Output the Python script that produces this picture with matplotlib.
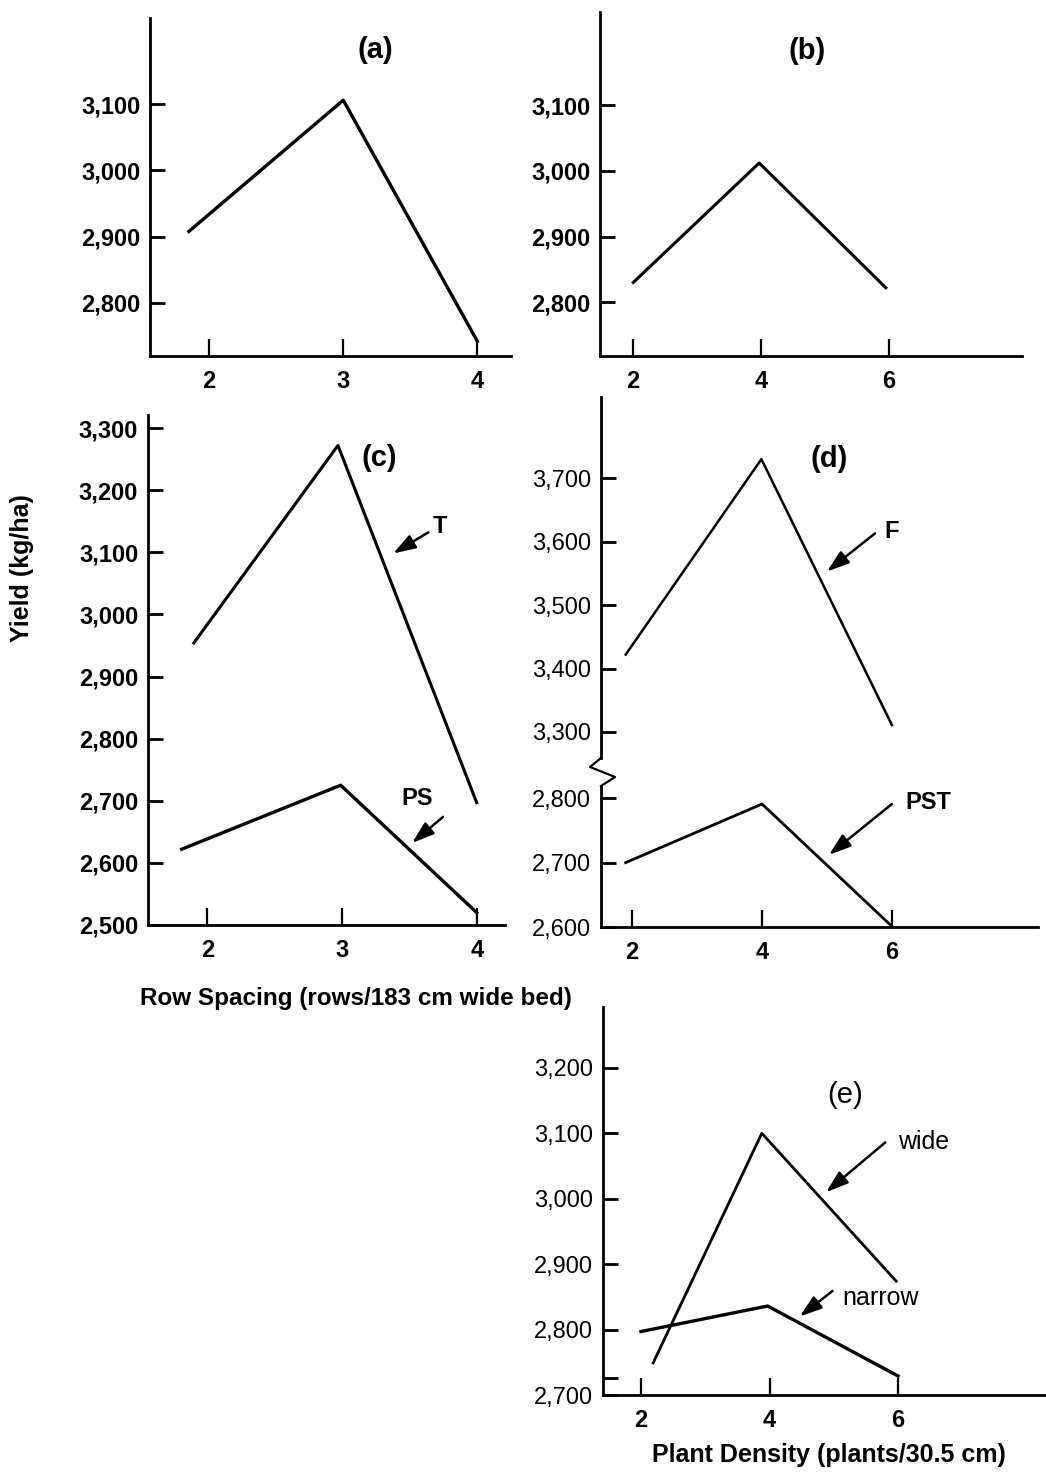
import matplotlib
matplotlib.use("Agg")
import matplotlib.pyplot as plt
from matplotlib.lines import Line2D

plt.rcParams['font.family'] = ['Liberation Sans', 'DejaVu Sans']

# --- data ---
# (a) yield vs row spacing
a_x = [1.85, 3.0, 4.0]
a_y = [2908, 3106, 2742]
# (b) yield vs plant density
b_x = [2.0, 3.97, 5.95]
b_y = [2830, 3012, 2822]
# (c) row spacing, two cultivars
c_t_x = [1.9, 2.97, 4.0]
c_t_y = [2954, 3272, 2697]
c_ps_x = [1.81, 2.99, 4.0]
c_ps_y = [2622, 2725, 2520]
# (d) plant density, two cultivars
d_f_x = [1.9, 3.99, 6.0]
d_f_y = [3422, 3730, 3311]
d_pst_x = [1.9, 4.0, 6.0]
d_pst_y = [2700, 2791, 2601]
# (e) plant density, wide vs narrow beds
e_wide_x = [2.19, 3.88, 5.97]
e_wide_y = [2749, 3100, 2874]
e_nar_x = [2.0, 3.97, 6.0]
e_nar_y = [2797, 2836, 2729]

row_ticks = [2, 3, 4]
dens_ticks = [2, 4, 6]

W, H = 1046, 1473
fig = plt.figure(figsize=(W / 100, H / 100), dpi=100)


def box(l, t, r, b):
    return [l / W, 1 - b / H, (r - l) / W, (b - t) / H]


def style(ax, xlim, ylim, xticks, yticks, weight='bold', bottom=True):
    ax.set_xlim(*xlim)
    ax.set_ylim(*ylim)
    for s in ['top', 'right']:
        ax.spines[s].set_visible(False)
    ax.spines['left'].set_linewidth(2)
    ax.spines['bottom'].set_linewidth(2)
    ax.set_yticks(yticks)
    ax.set_yticklabels([f"{v:,}" for v in yticks], fontsize=17, fontweight=weight)
    ax.tick_params(axis='y', direction='in', length=11, width=2, pad=7)
    if bottom:
        ax.set_xticks(xticks)
        ax.set_xticklabels([str(v) for v in xticks], fontsize=17, fontweight='bold')
        ax.tick_params(axis='x', direction='in', length=12, width=1.6, pad=10)
    else:
        ax.spines['bottom'].set_visible(False)
        ax.set_xticks([])
    ax.patch.set_alpha(0)


def arrow(ax, start, end):
    ax.annotate('', xy=end, xytext=start,
                arrowprops=dict(arrowstyle='-|>,head_width=0.3,head_length=0.9',
                                color='black', lw=1.8, shrinkA=0, shrinkB=0,
                                mutation_scale=15))


# (a)
ax = fig.add_axes(box(150, 18, 511, 356))
style(ax, (1.56, 4.25), (2720, 3230), row_ticks, [2800, 2900, 3000, 3100])
ax.plot(a_x, a_y, color='black', lw=2.4)
ax.text(3.24, 3182, '(a)', fontsize=21, fontweight='bold', ha='center', va='center')

# (b)
ax = fig.add_axes(box(600, 12, 1022, 356))
style(ax, (1.48, 8.08), (2718, 3242), dens_ticks, [2800, 2900, 3000, 3100])
ax.plot(b_x, b_y, color='black', lw=2.2)
ax.text(4.72, 3182, '(b)', fontsize=21, fontweight='bold', ha='center', va='center')

# (c)
ax = fig.add_axes(box(148, 415, 505, 925))
style(ax, (1.56, 4.21), (2500, 3321), row_ticks, list(range(2500, 3301, 100)))
ax.plot(c_t_x, c_t_y, color='black', lw=2.2)
ax.plot(c_ps_x, c_ps_y, color='black', lw=2.4)
ax.text(3.28, 3252, '(c)', fontsize=21, fontweight='bold', ha='center', va='center')
ax.text(3.73, 3142, 'T', fontsize=17, fontweight='bold', ha='center', va='center')
arrow(ax, (3.64, 3132), (3.38, 3098))
ax.text(3.56, 2703, 'PS', fontsize=17, fontweight='bold', ha='center', va='center')
arrow(ax, (3.75, 2674), (3.52, 2632))

# (d) broken axis: upper part
ax = fig.add_axes(box(601, 397, 1038, 758))
style(ax, (1.52, 8.25), (3259, 3828), dens_ticks, [3300, 3400, 3500, 3600, 3700],
      weight='normal', bottom=False)
ax.plot(d_f_x, d_f_y, color='black', lw=1.8)
ax.text(5.04, 3730, '(d)', fontsize=21, fontweight='bold', ha='center', va='center')
ax.text(6.0, 3616, 'F', fontsize=17, fontweight='bold', ha='center', va='center')
arrow(ax, (5.74, 3613), (5.0, 3553))

# (d) lower part
ax = fig.add_axes(box(601, 786, 1038, 927))
style(ax, (1.52, 8.25), (2600, 2819), dens_ticks, [2600, 2700, 2800], weight='normal')
ax.plot(d_pst_x, d_pst_y, color='black', lw=2.0)
ax.text(6.56, 2794, 'PST', fontsize=17, fontweight='bold', ha='center', va='center')
arrow(ax, (6.0, 2791), (5.03, 2712))

# zigzag break on the (d) axis
zx = [601, 590, 615, 601]
zy = [758, 767, 777, 786]
fig.add_artist(Line2D([v / W for v in zx], [1 - v / H for v in zy],
                      transform=fig.transFigure, color='black', lw=1.6))

# (e)
ax = fig.add_axes(box(603, 1007, 1046, 1395))
style(ax, (1.41, 8.30), (2700, 3293), dens_ticks, list(range(2700, 3201, 100)),
      weight='normal')
ax.set_yticks([2726], minor=True)
ax.tick_params(axis='y', which='minor', direction='in', length=11, width=2)
ax.plot(e_wide_x, e_wide_y, color='black', lw=2.0)
ax.plot(e_nar_x, e_nar_y, color='black', lw=2.4)
ax.text(5.18, 3159, '(e)', fontsize=21, ha='center', va='center')
ax.text(6.39, 3086, 'wide', fontsize=18, ha='center', va='center')
arrow(ax, (5.80, 3086), (4.88, 3010))
ax.text(5.72, 2848, 'narrow', fontsize=18, ha='center', va='center')
arrow(ax, (4.98, 2859), (4.47, 2820))

# axis titles
fig.text(22 / W, 1 - 568 / H, 'Yield (kg/ha)', rotation=90, fontsize=18,
         fontweight='bold', ha='center', va='center')
fig.text(356 / W, 1 - 998 / H, 'Row Spacing (rows/183 cm wide bed)', fontsize=17.5,
         fontweight='bold', ha='center', va='center')
fig.text(829 / W, 1 - 1455 / H, 'Plant Density (plants/30.5 cm)', fontsize=18,
         fontweight='bold', ha='center', va='center')

fig.savefig('out.png', dpi=100)
